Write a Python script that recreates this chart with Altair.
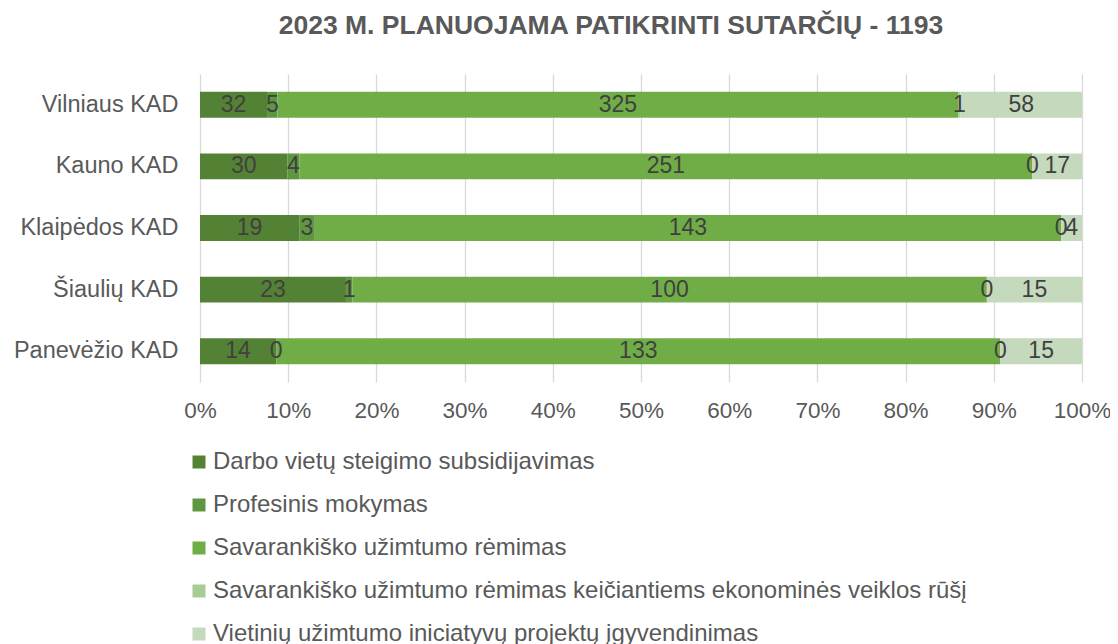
import altair as alt
import pandas as pd

regions = ["Vilniaus KAD", "Kauno KAD", "Klaipėdos KAD", "Šiaulių KAD", "Panevėžio KAD"]
series = [
    "Darbo vietų steigimo subsidijavimas",
    "Profesinis mokymas",
    "Savarankiško užimtumo rėmimas",
    "Savarankiško užimtumo rėmimas keičiantiems ekonominės veiklos rūšį",
    "Vietinių užimtumo iniciatyvų projektų įgyvendinimas",
]
darbo = [32, 30, 19, 23, 14]
profesinis = [5, 4, 3, 1, 0]
savarankisko = [325, 251, 143, 100, 133]
keiciantiems = [1, 0, 0, 0, 0]
vietiniu = [58, 17, 4, 15, 15]
colors = ["#548235", "#5F9640", "#70AD47", "#A9CB94", "#C5D9BD"]
title_text = "2023 M. PLANUOJAMA PATIKRINTI SUTARČIŲ - 1193"

rows = []
for s_i, (name, vals) in enumerate(zip(series, [darbo, profesinis, savarankisko, keiciantiems, vietiniu])):
    for r, v in zip(regions, vals):
        rows.append({"region": r, "series": name, "order": s_i, "value": v})
df = pd.DataFrame(rows)

FONT = "Liberation Sans"

base = alt.Chart(df).transform_stack(
    stack="value",
    groupby=["region"],
    as_=["v1", "v2"],
    offset="normalize",
    sort=[alt.SortField("order", order="ascending")],
).transform_calculate(mid="(datum.v1 + datum.v2) / 2")

yenc = alt.Y(
    "region:N",
    sort=regions,
    title=None,
    scale=alt.Scale(paddingInner=0.58, paddingOuter=0.29),
    axis=alt.Axis(
        labelFontSize=23.5, labelColor="#595959", labelFont=FONT, ticks=False,
        domainColor="#D9D9D9", labelPadding=22,
    ),
)

bars = base.mark_bar().encode(
    x=alt.X(
        "v1:Q",
        title=None,
        scale=alt.Scale(domain=[0, 1]),
        axis=alt.Axis(
            format="%", values=[i / 10 for i in range(11)], labelFontSize=22.5,
            labelColor="#595959", labelFont=FONT, ticks=False, domain=False,
            gridColor="#D9D9D9", gridWidth=1.3, labelPadding=17, labelFlush=False,
            labelOverlap=False,
        ),
    ),
    x2="v2:Q",
    y=yenc,
    color=alt.Color(
        "series:N",
        scale=alt.Scale(domain=series, range=colors),
        legend=alt.Legend(
            title=None, orient="none", legendX=-13, legendY=376, direction="vertical",
            labelFontSize=24, labelColor="#595959", labelFont=FONT, symbolType="square",
            symbolSize=169, symbolStrokeWidth=0, rowPadding=19, labelOffset=2,
            labelLimit=1000, padding=0,
        ),
    ),
    order=alt.Order("order:Q"),
)

labels = base.mark_text(fontSize=23, color="#404040", font=FONT).encode(
    x="mid:Q",
    y=alt.Y("region:N", sort=regions),
    text="value:Q",
)

chart = (bars + labels).properties(
    width=882,
    height=308,
    title=alt.TitleParams(
        title_text, fontSize=26.5, fontWeight="bold", color="#595959", font=FONT,
        anchor="middle", dx=-30, offset=35,
    ),
    autosize=alt.AutoSizeParams(type="none"),
    padding={"left": 192, "top": 66, "right": 28, "bottom": 262},
).configure_view(stroke=None)

chart.save("out.html", embed_options={"renderer": "svg", "actions": False})
